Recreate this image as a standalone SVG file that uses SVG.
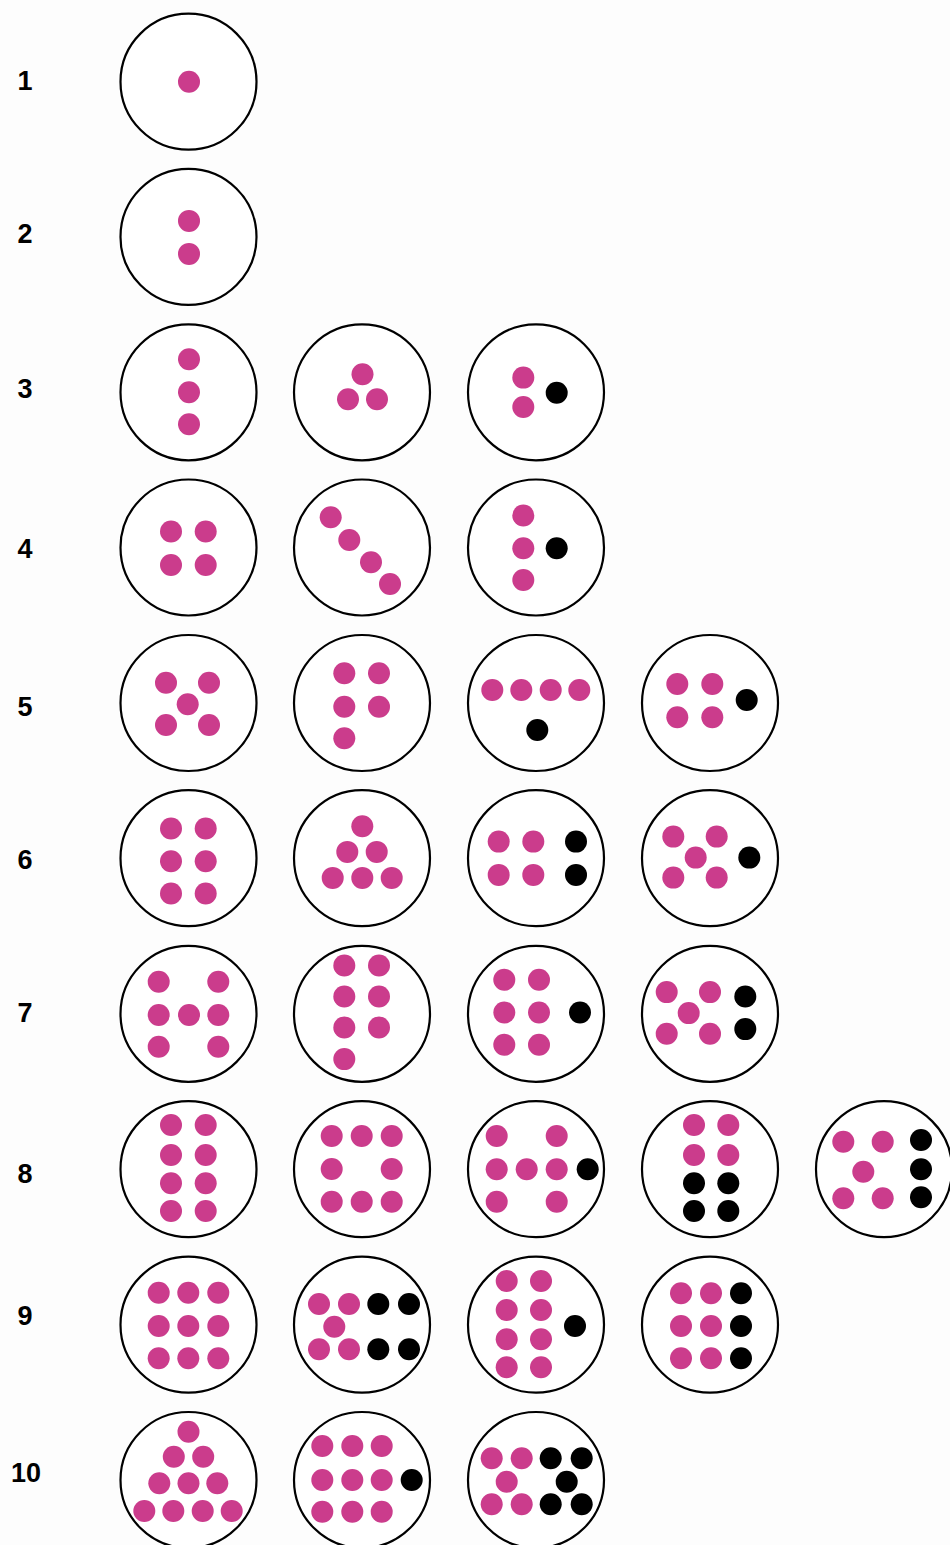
<svg xmlns="http://www.w3.org/2000/svg" width="950" height="1545" viewBox="0 0 950 1545">
<style>
.ring{fill:#fff;stroke:#000;stroke-width:2.2}
.p{fill:#cb3c8c}
.k{fill:#000}
.lbl{font-family:"Liberation Sans",Arial,sans-serif;font-weight:bold;font-size:27px;fill:#000;text-anchor:middle}
</style>
<rect width="950" height="1545" fill="#fdfdfd"/>
<g id="labels">
<text class="lbl" x="25" y="90">1</text>
<text class="lbl" x="25" y="243">2</text>
<text class="lbl" x="25" y="398">3</text>
<text class="lbl" x="25" y="558">4</text>
<text class="lbl" x="25" y="716">5</text>
<text class="lbl" x="25" y="869">6</text>
<text class="lbl" x="25" y="1022">7</text>
<text class="lbl" x="25" y="1183">8</text>
<text class="lbl" x="25" y="1325">9</text>
<text class="lbl" x="26" y="1482">10</text>
</g>
<g id="connectors"></g>

<g id="n1a" transform="translate(188.5,81.7)"><circle class="ring" r="68"/>
<circle class="p" cx="0.5" cy="0" r="11"/></g>

<g id="n2a" transform="translate(188.5,236.9)"><circle class="ring" r="68"/>
<circle class="p" cx="0.5" cy="-16" r="11"/><circle class="p" cx="0.5" cy="17" r="11"/></g>

<g id="n3a" transform="translate(188.5,392.3)"><circle class="ring" r="68"/>
<circle class="p" cx="0.5" cy="-33" r="11"/><circle class="p" cx="0.5" cy="0" r="11"/><circle class="p" cx="0.5" cy="32" r="11"/></g>
<g id="n3b" transform="translate(362,392.3)"><circle class="ring" r="68"/>
<circle class="p" cx="0.5" cy="-18" r="11"/><circle class="p" cx="-14" cy="7" r="11"/><circle class="p" cx="15" cy="7" r="11"/></g>
<g id="n3c" transform="translate(536,392.3)"><circle class="ring" r="68"/>
<circle class="p" cx="-12.7" cy="-14.7" r="11"/><circle class="p" cx="-12.7" cy="14.7" r="11"/><circle class="k" cx="20.7" cy="0.5" r="11"/></g>

<g id="n4a" transform="translate(188.5,547.5)"><circle class="ring" r="68"/>
<circle class="p" cx="-17.5" cy="-16" r="11"/><circle class="p" cx="17.2" cy="-16" r="11"/><circle class="p" cx="-17.5" cy="17.5" r="11"/><circle class="p" cx="17.2" cy="17.5" r="11"/></g>
<g id="n4b" transform="translate(362,547.5)"><circle class="ring" r="68"/>
<circle class="p" cx="-31.3" cy="-30.2" r="11"/><circle class="p" cx="-12.7" cy="-7.5" r="11"/><circle class="p" cx="9" cy="14.8" r="11"/><circle class="p" cx="28" cy="36.5" r="11"/></g>
<g id="n4c" transform="translate(536,547.5)"><circle class="ring" r="68"/>
<circle class="p" cx="-12.7" cy="-32" r="11"/><circle class="p" cx="-12.7" cy="0.8" r="11"/><circle class="p" cx="-12.7" cy="32.5" r="11"/><circle class="k" cx="20.7" cy="0.8" r="11"/></g>

<g id="n5a" transform="translate(188.5,703)"><circle class="ring" r="68"/>
<circle class="p" cx="-22.5" cy="-20.3" r="11"/><circle class="p" cx="20.5" cy="-20.3" r="11"/><circle class="p" cx="-0.8" cy="1.3" r="11"/><circle class="p" cx="-22.5" cy="22" r="11"/><circle class="p" cx="20.5" cy="22" r="11"/></g>
<g id="n5b" transform="translate(362,703)"><circle class="ring" r="68"/>
<circle class="p" cx="-17.7" cy="-29.7" r="11"/><circle class="p" cx="17" cy="-29.7" r="11"/><circle class="p" cx="-17.7" cy="3.7" r="11"/><circle class="p" cx="17" cy="3.7" r="11"/><circle class="p" cx="-17.7" cy="35.3" r="11"/></g>
<g id="n5c" transform="translate(536,703)"><circle class="ring" r="68"/>
<circle class="p" cx="-43.7" cy="-13" r="11"/><circle class="p" cx="-14.7" cy="-13" r="11"/><circle class="p" cx="14.7" cy="-13" r="11"/><circle class="p" cx="43.3" cy="-13" r="11"/><circle class="k" cx="1.3" cy="27" r="11"/></g>
<g id="n5d" transform="translate(710,703)"><circle class="ring" r="68"/>
<circle class="p" cx="-32.7" cy="-19" r="11"/><circle class="p" cx="2.3" cy="-19" r="11"/><circle class="p" cx="-32.7" cy="14.3" r="11"/><circle class="p" cx="2.3" cy="14.3" r="11"/><circle class="k" cx="36.7" cy="-3" r="11"/></g>

<g id="n6a" transform="translate(188.5,858.2)"><circle class="ring" r="68"/>
<circle class="p" cx="-17.5" cy="-29.7" r="11"/><circle class="p" cx="17.2" cy="-29.7" r="11"/><circle class="p" cx="-17.5" cy="3" r="11"/><circle class="p" cx="17.2" cy="3" r="11"/><circle class="p" cx="-17.5" cy="35.3" r="11"/><circle class="p" cx="17.2" cy="35.3" r="11"/></g>
<g id="n6b" transform="translate(362,858.2)"><circle class="ring" r="68"/>
<circle class="p" cx="0.3" cy="-32" r="11"/><circle class="p" cx="-14.7" cy="-6.3" r="11"/><circle class="p" cx="14.7" cy="-6.3" r="11"/><circle class="p" cx="-29.3" cy="19.7" r="11"/><circle class="p" cx="0.3" cy="19.7" r="11"/><circle class="p" cx="29.7" cy="19.7" r="11"/></g>
<g id="n6c" transform="translate(536,858.2)"><circle class="ring" r="68"/>
<circle class="p" cx="-37.3" cy="-16.6" r="11"/><circle class="p" cx="-2.7" cy="-16.6" r="11"/><circle class="p" cx="-37.3" cy="16.7" r="11"/><circle class="p" cx="-2.7" cy="16.7" r="11"/><circle class="k" cx="40" cy="-16.6" r="11"/><circle class="k" cx="40" cy="16.7" r="11"/></g>
<g id="n6d" transform="translate(710,858.2)"><circle class="ring" r="68"/>
<circle class="p" cx="-36.7" cy="-21.6" r="11"/><circle class="p" cx="6.7" cy="-21.6" r="11"/><circle class="p" cx="-14.3" cy="-0.6" r="11"/><circle class="p" cx="-36.7" cy="19.4" r="11"/><circle class="p" cx="6.7" cy="19.4" r="11"/><circle class="k" cx="39.3" cy="-0.6" r="11"/></g>

<g id="n7a" transform="translate(188.5,1013.8)"><circle class="ring" r="68"/>
<circle class="p" cx="-29.8" cy="-32.1" r="11"/><circle class="p" cx="29.8" cy="-32.1" r="11"/><circle class="p" cx="-29.8" cy="1.2" r="11"/><circle class="p" cx="0.5" cy="1.2" r="11"/><circle class="p" cx="29.8" cy="1.2" r="11"/><circle class="p" cx="-29.8" cy="32.9" r="11"/><circle class="p" cx="29.8" cy="32.9" r="11"/></g>
<g id="n7b" transform="translate(362,1013.8)"><circle class="ring" r="68"/>
<circle class="p" cx="-17.7" cy="-48.3" r="11"/><circle class="p" cx="17" cy="-48.3" r="11"/><circle class="p" cx="-17.7" cy="-17.3" r="11"/><circle class="p" cx="17" cy="-17.3" r="11"/><circle class="p" cx="-17.7" cy="13.7" r="11"/><circle class="p" cx="17" cy="13.7" r="11"/><circle class="p" cx="-17.7" cy="45.3" r="11"/></g>
<g id="n7c" transform="translate(536,1013.8)"><circle class="ring" r="68"/>
<circle class="p" cx="-31.7" cy="-34" r="11"/><circle class="p" cx="3" cy="-34" r="11"/><circle class="p" cx="-31.7" cy="-1.3" r="11"/><circle class="p" cx="3" cy="-1.3" r="11"/><circle class="p" cx="-31.7" cy="31" r="11"/><circle class="p" cx="3" cy="31" r="11"/><circle class="k" cx="44" cy="-1.3" r="11"/></g>
<g id="n7d" transform="translate(710,1013.8)"><circle class="ring" r="68"/>
<circle class="p" cx="-43.3" cy="-21.7" r="11"/><circle class="p" cx="0" cy="-21.7" r="11"/><circle class="p" cx="-21.3" cy="-0.7" r="11"/><circle class="p" cx="-43.3" cy="20" r="11"/><circle class="p" cx="0" cy="20" r="11"/><circle class="k" cx="35.3" cy="-17.3" r="11"/><circle class="k" cx="35.3" cy="15.3" r="11"/></g>

<g id="n8a" transform="translate(188.5,1169.2)"><circle class="ring" r="68"/>
<circle class="p" cx="-17.5" cy="-44.2" r="11"/><circle class="p" cx="17.2" cy="-44.2" r="11"/><circle class="p" cx="-17.5" cy="-14.2" r="11"/><circle class="p" cx="17.2" cy="-14.2" r="11"/><circle class="p" cx="-17.5" cy="14.1" r="11"/><circle class="p" cx="17.2" cy="14.1" r="11"/><circle class="p" cx="-17.5" cy="41.8" r="11"/><circle class="p" cx="17.2" cy="41.8" r="11"/></g>
<g id="n8b" transform="translate(362,1169.2)"><circle class="ring" r="68"/>
<circle class="p" cx="-30.3" cy="-33.2" r="11"/><circle class="p" cx="-0.3" cy="-33.2" r="11"/><circle class="p" cx="29.7" cy="-33.2" r="11"/><circle class="p" cx="-30.3" cy="-0.2" r="11"/><circle class="p" cx="29.7" cy="-0.2" r="11"/><circle class="p" cx="-30.3" cy="32.5" r="11"/><circle class="p" cx="-0.3" cy="32.5" r="11"/><circle class="p" cx="29.7" cy="32.5" r="11"/></g>
<g id="n8c" transform="translate(536,1169.2)"><circle class="ring" r="68"/>
<circle class="p" cx="-39.3" cy="-33.2" r="11"/><circle class="p" cx="20.7" cy="-33.2" r="11"/><circle class="p" cx="-39.3" cy="0.1" r="11"/><circle class="p" cx="-9.3" cy="0.1" r="11"/><circle class="p" cx="20.7" cy="0.1" r="11"/><circle class="p" cx="-39.3" cy="32.5" r="11"/><circle class="p" cx="20.7" cy="32.5" r="11"/><circle class="k" cx="51.7" cy="0.1" r="11"/></g>
<g id="n8d" transform="translate(710,1169.2)"><circle class="ring" r="68"/>
<circle class="p" cx="-16" cy="-44.2" r="11"/><circle class="p" cx="18.3" cy="-44.2" r="11"/><circle class="p" cx="-16" cy="-14.2" r="11"/><circle class="p" cx="18.3" cy="-14.2" r="11"/><circle class="k" cx="-16" cy="14.1" r="11"/><circle class="k" cx="18.3" cy="14.1" r="11"/><circle class="k" cx="-16" cy="41.8" r="11"/><circle class="k" cx="18.3" cy="41.8" r="11"/></g>
<g id="n8e" transform="translate(884,1169.2)"><circle class="ring" r="68"/>
<circle class="p" cx="-40.7" cy="-27.5" r="11"/><circle class="p" cx="-1.3" cy="-27.5" r="11"/><circle class="p" cx="-20.7" cy="2.5" r="11"/><circle class="p" cx="-40.7" cy="29.1" r="11"/><circle class="p" cx="-1.3" cy="29.1" r="11"/><circle class="k" cx="37" cy="-29.2" r="11"/><circle class="k" cx="37" cy="0.1" r="11"/><circle class="k" cx="37" cy="28.1" r="11"/></g>

<g id="n9a" transform="translate(188.5,1324.7)"><circle class="ring" r="68"/>
<circle class="p" cx="-29.8" cy="-32" r="11"/><circle class="p" cx="-0.2" cy="-32" r="11"/><circle class="p" cx="29.8" cy="-32" r="11"/><circle class="p" cx="-29.8" cy="1.3" r="11"/><circle class="p" cx="-0.2" cy="1.3" r="11"/><circle class="p" cx="29.8" cy="1.3" r="11"/><circle class="p" cx="-29.8" cy="33.6" r="11"/><circle class="p" cx="-0.2" cy="33.6" r="11"/><circle class="p" cx="29.8" cy="33.6" r="11"/></g>
<g id="n9b" transform="translate(362,1324.7)"><circle class="ring" r="68"/>
<circle class="p" cx="-43" cy="-20.7" r="11"/><circle class="p" cx="-13" cy="-20.7" r="11"/><circle class="p" cx="-27.7" cy="2" r="11"/><circle class="p" cx="-43" cy="24.6" r="11"/><circle class="p" cx="-13" cy="24.6" r="11"/><circle class="k" cx="16.3" cy="-20.7" r="11"/><circle class="k" cx="47" cy="-20.7" r="11"/><circle class="k" cx="16.3" cy="24.6" r="11"/><circle class="k" cx="47" cy="24.6" r="11"/></g>
<g id="n9c" transform="translate(536,1324.7)"><circle class="ring" r="68"/>
<circle class="p" cx="-29.3" cy="-43.7" r="11"/><circle class="p" cx="5" cy="-43.7" r="11"/><circle class="p" cx="-29.3" cy="-14.7" r="11"/><circle class="p" cx="5" cy="-14.7" r="11"/><circle class="p" cx="-29.3" cy="14.6" r="11"/><circle class="p" cx="5" cy="14.6" r="11"/><circle class="p" cx="-29.3" cy="42.6" r="11"/><circle class="p" cx="5" cy="42.6" r="11"/><circle class="k" cx="39" cy="1.3" r="11"/></g>
<g id="n9d" transform="translate(710,1324.7)"><circle class="ring" r="68"/>
<circle class="p" cx="-29" cy="-31.4" r="11"/><circle class="p" cx="1" cy="-31.4" r="11"/><circle class="k" cx="31" cy="-31.4" r="11"/><circle class="p" cx="-29" cy="1.3" r="11"/><circle class="p" cx="1" cy="1.3" r="11"/><circle class="k" cx="31" cy="1.3" r="11"/><circle class="p" cx="-29" cy="33.6" r="11"/><circle class="p" cx="1" cy="33.6" r="11"/><circle class="k" cx="31" cy="33.6" r="11"/></g>

<g id="n10a" transform="translate(188.5,1480)"><circle class="ring" r="68"/>
<circle class="p" cx="0" cy="-48.3" r="11"/><circle class="p" cx="-14.7" cy="-23.3" r="11"/><circle class="p" cx="14.7" cy="-23.3" r="11"/><circle class="p" cx="-29.2" cy="3.3" r="11"/><circle class="p" cx="0" cy="3.3" r="11"/><circle class="p" cx="28.8" cy="3.3" r="11"/><circle class="p" cx="-44.2" cy="31" r="11"/><circle class="p" cx="-15.2" cy="31" r="11"/><circle class="p" cx="14.2" cy="31" r="11"/><circle class="p" cx="43.2" cy="31" r="11"/></g>
<g id="n10b" transform="translate(362,1480)"><circle class="ring" r="68"/>
<circle class="p" cx="-39.7" cy="-34" r="11"/><circle class="p" cx="-9.7" cy="-34" r="11"/><circle class="p" cx="19.7" cy="-34" r="11"/><circle class="p" cx="-39.7" cy="0" r="11"/><circle class="p" cx="-9.7" cy="0" r="11"/><circle class="p" cx="19.7" cy="0" r="11"/><circle class="p" cx="-39.7" cy="31.7" r="11"/><circle class="p" cx="-9.7" cy="31.7" r="11"/><circle class="p" cx="19.7" cy="31.7" r="11"/><circle class="k" cx="49.7" cy="0" r="11"/></g>
<g id="n10c" transform="translate(536,1480)"><circle class="ring" r="68"/>
<circle class="p" cx="-44.3" cy="-21.7" r="11"/><circle class="p" cx="-14.3" cy="-21.7" r="11"/><circle class="p" cx="-29.3" cy="1.7" r="11"/><circle class="p" cx="-44.3" cy="24.3" r="11"/><circle class="p" cx="-14.3" cy="24.3" r="11"/><circle class="k" cx="14.7" cy="-21.7" r="11"/><circle class="k" cx="45.7" cy="-21.7" r="11"/><circle class="k" cx="30.7" cy="1.7" r="11"/><circle class="k" cx="14.7" cy="24.3" r="11"/><circle class="k" cx="45.7" cy="24.3" r="11"/></g>
</svg>
